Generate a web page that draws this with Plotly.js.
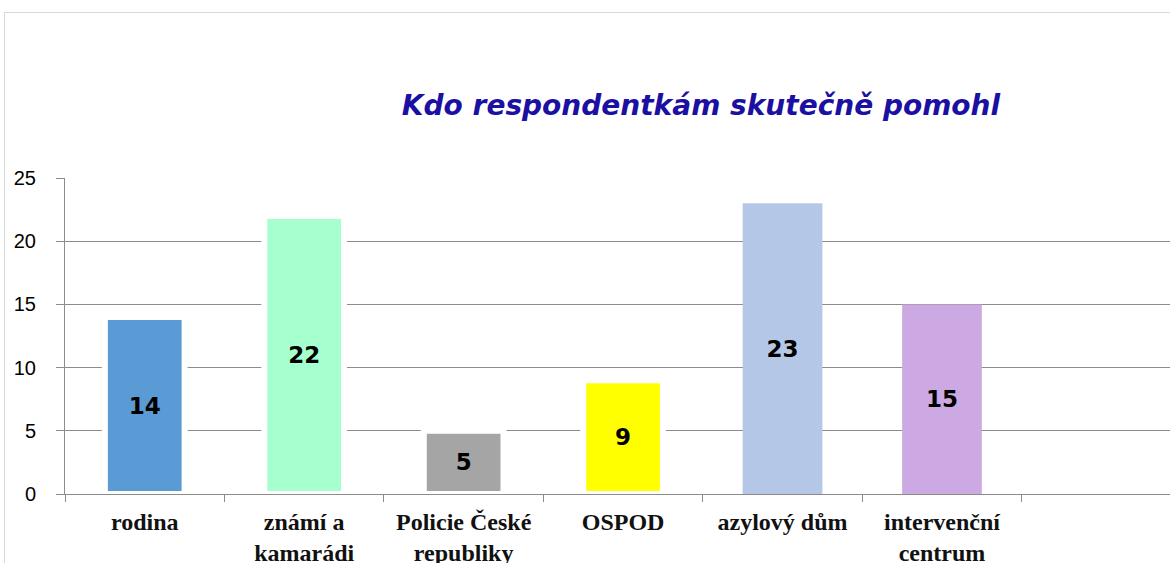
<!DOCTYPE html>
<html>
<head>
<meta charset="utf-8">
<script src="https://cdn.plot.ly/plotly-3.0.1.min.js"></script>
<style>
  html, body { margin: 0; padding: 0; background: #fff; }
  #wrap { position: relative; width: 1170px; height: 563px; overflow: hidden; }
  #chart { position: absolute; left: 0; top: 0; width: 1170px; height: 563px; }
  #frame { position: absolute; left: 4px; top: 12px; width: 1180px; height: 600px;
           border: 1px solid #d9d9d9; box-sizing: border-box; pointer-events: none; }
</style>
</head>
<body>
<div id="wrap">
  <div id="chart"></div>
  <div id="frame"></div>
</div>
<script>
// Data
const categories = ["rodina", "známí a<br>kamarádi", "Policie České<br>republiky", "OSPOD", "azylový dům", "intervenční<br>centrum"];
const values = [14, 22, 5, 9, 23, 15];
const barColors = ["#5B9BD5", "#A6FFCE", "#A5A5A5", "#FFFF00", "#B4C7E7", "#CDA9E3"];
const outlineColors = ["#FFFFFF", "#FFFFFF", "#FFFFFF", "#FFFFFF", "rgba(0,0,0,0)", "rgba(0,0,0,0)"];
const outlineWidths = [6, 6, 6, 6, 0, 0];
const emptySlot = " ";
const titleText = "Kdo respondentkám skutečně pomohl";

const trace = {
  type: "bar",
  x: categories,
  y: values,
  width: 0.5,
  marker: { color: barColors, line: { color: outlineColors, width: outlineWidths } },
  text: values.map(String),
  textposition: "inside",
  insidetextanchor: "middle",
  textangle: 0,
  constraintext: "none",
  textfont: { family: "DejaVu Sans", size: 23, color: "#000", weight: "bold" },
  hoverinfo: "skip"
};

const layout = {
  width: 1170,
  height: 563,
  margin: { l: 65, r: 0, t: 178, b: 69, pad: 0 },
  paper_bgcolor: "#ffffff",
  plot_bgcolor: "#ffffff",
  showlegend: false,
  bargap: 0.5,
  title: {
    text: titleText,
    font: { family: "DejaVu Sans", size: 28, color: "#1B10A2", style: "italic", weight: "bold" },
    x: 701 / 1170, xanchor: "center", xref: "container",
    y: 1 - 105 / 563, yanchor: "middle", yref: "container"
  },
  xaxis: {
    type: "category",
    categoryorder: "array",
    categoryarray: categories.concat([emptySlot]),
    range: [-0.5, 6.43],
    showline: true, linecolor: "#8c8c8c", linewidth: 1,
    ticks: "outside", tickson: "boundaries", ticklen: 7, tickcolor: "#8c8c8c", tickwidth: 1,
    showgrid: false, zeroline: false,
    tickfont: { family: "Liberation Serif", size: 24, color: "#111", weight: "bold" },
    ticklabelstandoff: 6,
    tickangle: 0,
    fixedrange: true
  },
  yaxis: {
    range: [0, 25],
    tickmode: "linear", tick0: 0, dtick: 5,
    showline: true, linecolor: "#8c8c8c", linewidth: 1,
    ticks: "outside", ticklen: 8, tickcolor: "#8c8c8c", tickwidth: 1,
    showgrid: true, gridcolor: "#8c8c8c", gridwidth: 1,
    zeroline: false,
    tickfont: { family: "Liberation Sans", size: 20, color: "#000" },
    ticklabelstandoff: 16,
    fixedrange: true
  }
};

Plotly.newPlot("chart", [trace], layout, { displayModeBar: false, staticPlot: true });
</script>
</body>
</html>
